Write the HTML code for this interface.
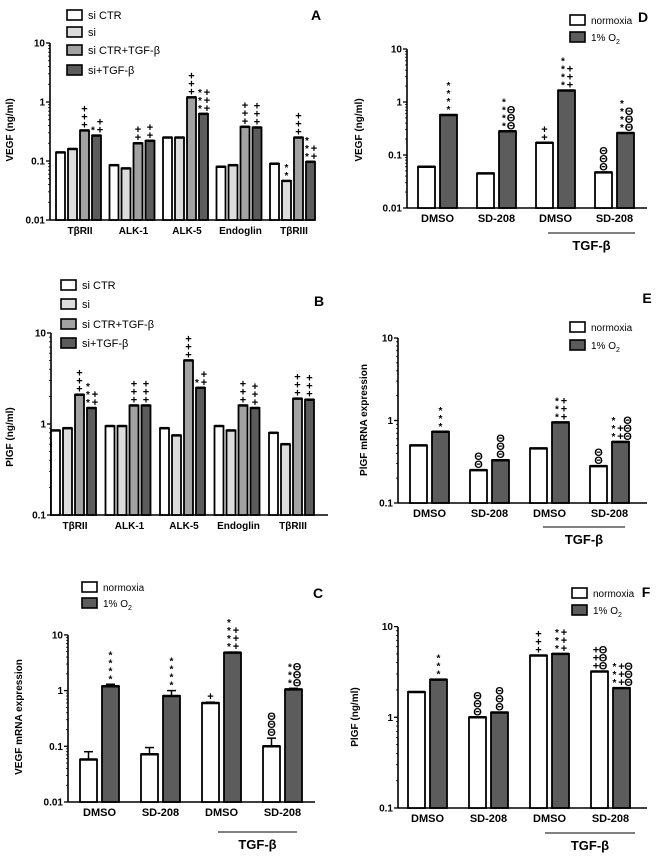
<!DOCTYPE html>
<html><head><meta charset="utf-8"><style>
html,body{margin:0;padding:0;background:#fff}
svg{display:block}
text{font-family:"Liberation Sans",Arial,sans-serif}
</style></head><body>
<svg id="fig" width="660" height="868" viewBox="0 0 660 868" xmlns="http://www.w3.org/2000/svg"></svg>
<script>
// ---- Panel A data ----
const aCategories = ["TβRII","ALK-1","ALK-5","Endoglin","TβRIII"];
const aSiCtr = [0.14,0.085,0.25,0.08,0.09];
const aSi = [0.16,0.075,0.25,0.085,0.046];
const aSiCtrTgf = [0.33,0.2,1.2,0.38,0.25];
const aSiTgf = [0.27,0.22,0.63,0.37,0.097];
const aTicks = ["0.01","0.1","1","10"];
// ---- Panel B data ----
const bCategories = ["TβRII","ALK-1","ALK-5","Endoglin","TβRIII"];
const bSiCtr = [0.85,0.95,0.9,0.95,0.8];
const bSi = [0.9,0.95,0.75,0.85,0.6];
const bSiCtrTgf = [2.1,1.6,5.0,1.6,1.9];
const bSiTgf = [1.5,1.6,2.5,1.5,1.85];
const bTicks = ["0.1","1","10"];
// ---- Panels C-F data ----
const twoCats = ["DMSO","SD-208","DMSO","SD-208"];
const cNormoxia = [0.058,0.072,0.6,0.1];
const cNormoxiaErr = [0.08,0.095,0.62,0.14];
const cHypoxia = [1.2,0.8,4.8,1.05];
const cHypoxiaErr = [1.3,1.0,4.9,1.1];
const cTicks = ["0.01","0.1","1","10"];
const dNormoxia = [0.06,0.045,0.17,0.047];
const dHypoxia = [0.57,0.28,1.65,0.26];
const dTicks = ["0.01","0.1","1","10"];
const eNormoxia = [0.5,0.25,0.46,0.28];
const eHypoxia = [0.73,0.33,0.95,0.55];
const eTicks = ["0.1","1","10"];
const fNormoxia = [1.9,1.0,4.8,3.2];
const fHypoxia = [2.6,1.13,5.0,2.1];
const fTicks = ["0.1","1","10"];

const NS="http://www.w3.org/2000/svg";
const svg=document.getElementById('fig');
function mk(tag,attrs,parent,txt){const e=document.createElementNS(NS,tag);for(const k in attrs)e.setAttribute(k,attrs[k]);if(txt!==undefined)e.textContent=txt;(parent||svg).appendChild(e);return e;}

function axis(g,p,ticks){
  const y=v=>p.y0-(Math.log10(v)-Math.log10(p.min))*p.dec;
  const ax=mk('line',{x1:p.ax,y1:p.y0,x2:p.ax,y2:p.yTop,stroke:'#000','stroke-width':1.6},g);
  
  const bx=mk('line',{x1:p.ax,y1:p.y0,x2:p.right,y2:p.y0,stroke:'#000','stroke-width':1.6},g);
  
  ticks.forEach((t,i)=>{const v=parseFloat(t);const yy=y(v);
    mk('line',{x1:p.ax-4,y1:yy,x2:p.ax,y2:yy,stroke:'#000','stroke-width':1.3},g);
    const tl=mk('text',{x:p.ax-5,y:yy+3.5,'text-anchor':'end','font-size':10,'font-weight':'bold'},g,t);
    
    if(i<ticks.length-1){for(let m=2;m<=9;m++){const my=y(v*m);mk('line',{x1:p.ax-2,y1:my,x2:p.ax,y2:my,stroke:'#000','stroke-width':0.8},g);}}
  });
  return y;
}
function stackSym(g,x,yTop,cols){
  cols.forEach((s,ci)=>{const cx=x+ci*7-(cols.length-1)*3.5;
    for(let k=0;k<s.length;k++){const ch=s[s.length-1-k];
      mk('text',{x:cx,y:yTop-2-k*8,'text-anchor':'middle','font-size':ch==='*'?10:11,'font-weight':'bold'},g,ch==='o'?'Θ':ch);}
  });
}
function bar(g,x,w,yv,y0,fill,name){const r=mk('rect',{x:x,y:yv,width:w,height:y0-yv,fill:fill,stroke:'#000','stroke-width':1.8},g);
  return r;}
function ylabel(g,x,cy,t){const e=mk('text',{x:x,y:cy,'text-anchor':'middle','font-size':10,'font-weight':'bold',transform:`rotate(-90 ${x} ${cy})`},g,t);
  }
function letter(g,x,y,t){const e=mk('text',{x:x,y:y,'text-anchor':'middle','font-size':14,'font-weight':'bold'},g,t);
  }
function legend(g,x,ys,labels,fills,fs){labels.forEach((l,i)=>{
  const r=mk('rect',{x:x,y:ys[i]-5,width:15,height:10,fill:fills[i],stroke:'#000','stroke-width':1.6},g);
  
  const t=mk('text',{x:x+21,y:ys[i]+4,'font-size':fs},g);
  if(l==='1% O2'){t.textContent='1% O';mk('tspan',{dy:3,'font-size':fs-3},t,'2');}else t.textContent=l;});}

const FILLS4=['#ffffff','#dcdcdc','#a2a2a2','#5c5c5c'];

function fourPanel(name,p,cats,series,ticks,ann){
  const g=mk('g',{});
  const y=axis(g,p,ticks);
  cats.forEach((c,i)=>{const gc=p.c0+i*p.step;
    series.forEach((s,j)=>{const x=gc-24+j*12;const yv=y(s[i]);bar(g,x,9,yv,p.y0,FILLS4[j],'bar-'+c.toLowerCase()+'-'+j);
      mk('line',{x1:x,y1:yv,x2:x+9,y2:yv,stroke:'#000','stroke-width':2.5},g);
      const a=ann[i]&&ann[i][j];if(a)stackSym(g,x+4.5,yv,a);});
    const t=mk('text',{x:gc,y:p.y0+14,'text-anchor':'middle','font-size':10,'font-weight':'bold'},g,c);
    });
  return g;
}
function twoPanel(name,p,nv,hv,ticks,ann,nErr,hErr){
  const g=mk('g',{});
  const y=axis(g,p,ticks);
  twoCats.forEach((c,i)=>{const x0=p.s0+i*p.step;
    [[nv,'#ffffff',nErr],[hv,'#5c5c5c',hErr]].forEach(([arr,f,err],j)=>{const x=x0+j*22;const yv=y(arr[i]);
      if(err){const ye=y(err[i]);mk('line',{x1:x+8.5,y1:yv,x2:x+8.5,y2:ye,stroke:'#000','stroke-width':1.5},g);mk('line',{x1:x+4,y1:ye,x2:x+13,y2:ye,stroke:'#000','stroke-width':1.5},g);}
      bar(g,x,17,yv,p.y0,f,'bar-'+c.toLowerCase()+'-'+i+(j?'-hypoxia':'-normoxia'));
      mk('line',{x1:x,y1:yv,x2:x+17,y2:yv,stroke:'#000','stroke-width':2.5},g);
      const a=ann[i]&&ann[i][j];if(a){const top=err?Math.min(yv,y(err[i])):yv;stackSym(g,x+8.5,top,a);}});
    const t=mk('text',{x:x0+19.5,y:p.y0+14,'text-anchor':'middle','font-size':11,'font-weight':'bold'},g,c);
    });
  const l=mk('line',{x1:p.tg[0],y1:p.tg[2],x2:p.tg[1],y2:p.tg[2],stroke:'#000','stroke-width':1},g);
  
  const t=mk('text',{x:(p.tg[0]+p.tg[1])/2,y:p.tg[2]+17,'text-anchor':'middle','font-size':13,'font-weight':'bold'},g,'TGF-β');
  
  return g;
}

// Panel A
let g=fourPanel('panel-a',{ax:50,y0:220,yTop:43,min:0.01,dec:59,right:315,c0:80,step:53.5},aCategories,[aSiCtr,aSi,aSiCtrTgf,aSiTgf],aTicks,
 [[null,null,['+++'],['*','++']],[null,null,['++'],['++']],[null,null,['+++'],['***','+++']],[null,null,['+++'],['+++']],[null,['**'],['+++'],['***','++']]]);
legend(g,67,[15,32,50,70],['si CTR','si','si CTR+TGF-β','si+TGF-β'],FILLS4,11);
ylabel(g,13,130,'VEGF (ng/ml)');letter(g,316,20,'A');
// Panel B
g=fourPanel('panel-b',{ax:51,y0:515,yTop:333,min:0.1,dec:91,right:328,c0:75,step:54.5},bCategories,[bSiCtr,bSi,bSiCtrTgf,bSiTgf],bTicks,
 [[null,null,['+++'],['***','++']],[null,null,['+++'],['+++']],[null,null,['+++'],['*','++']],[null,null,['+++'],['+++']],[null,null,['+++'],['+++']]]);
legend(g,61,[285,304,324,343],['si CTR','si','si CTR+TGF-β','si+TGF-β'],FILLS4,11);
ylabel(g,13,437,'PlGF (ng/ml)');letter(g,319,306,'B');
// Panel C
g=twoPanel('panel-c',{ax:68,y0:802,yTop:635,min:0.01,dec:55.7,right:315,s0:80,step:61,tg:[218,297,832]},cNormoxia,cHypoxia,cTicks,
 [[null,['****']],[null,['****']],[['+'],['****','+++']],[['ooo'],['***','ooo']]],cNormoxiaErr,cHypoxiaErr);
legend(g,82,[587,603],['normoxia','1% O2'],['#ffffff','#5c5c5c'],10);
ylabel(g,22,717,'VEGF mRNA expression');letter(g,318,598,'C');
// Panel D
g=twoPanel('panel-d',{ax:407,y0:208,yTop:49,min:0.01,dec:53,right:647,s0:418,step:59,tg:[548,635,233]},dNormoxia,dHypoxia,dTicks,
 [[null,['****']],[null,['****','ooo']],[['++'],['****','+++']],[['ooo'],['****','ooo']]]);
legend(g,570,[20,37],['normoxia','1% O2'],['#ffffff','#5c5c5c'],10);
ylabel(g,362,130,'VEGF (ng/ml)');letter(g,643,22,'D');
// Panel E
g=twoPanel('panel-e',{ax:398,y0:503,yTop:338,min:0.1,dec:82.5,right:647,s0:410,step:60,tg:[543,625,527]},eNormoxia,eHypoxia,eTicks,
 [[null,['***']],[['oo'],['ooo']],[null,['***','+++']],[['oo'],['***','++','ooo']]]);
legend(g,570,[327,345],['normoxia','1% O2'],['#ffffff','#5c5c5c'],10);
ylabel(g,367,420,'PlGF mRNA expression');letter(g,647,303,'E');
// Panel F
g=twoPanel('panel-f',{ax:398,y0:808,yTop:627,min:0.1,dec:90.7,right:647,s0:408,step:61,tg:[545,635,833]},fNormoxia,fHypoxia,fTicks,
 [[null,['***']],[['ooo'],['ooo']],[['+++'],['***','+++']],[['+++','ooo'],['***','+++','ooo']]]);
legend(g,572,[593,610],['normoxia','1% O2'],['#ffffff','#5c5c5c'],10);
ylabel(g,358,717,'PlGF (ng/ml)');letter(g,646,597,'F');
</script>
</body></html>
